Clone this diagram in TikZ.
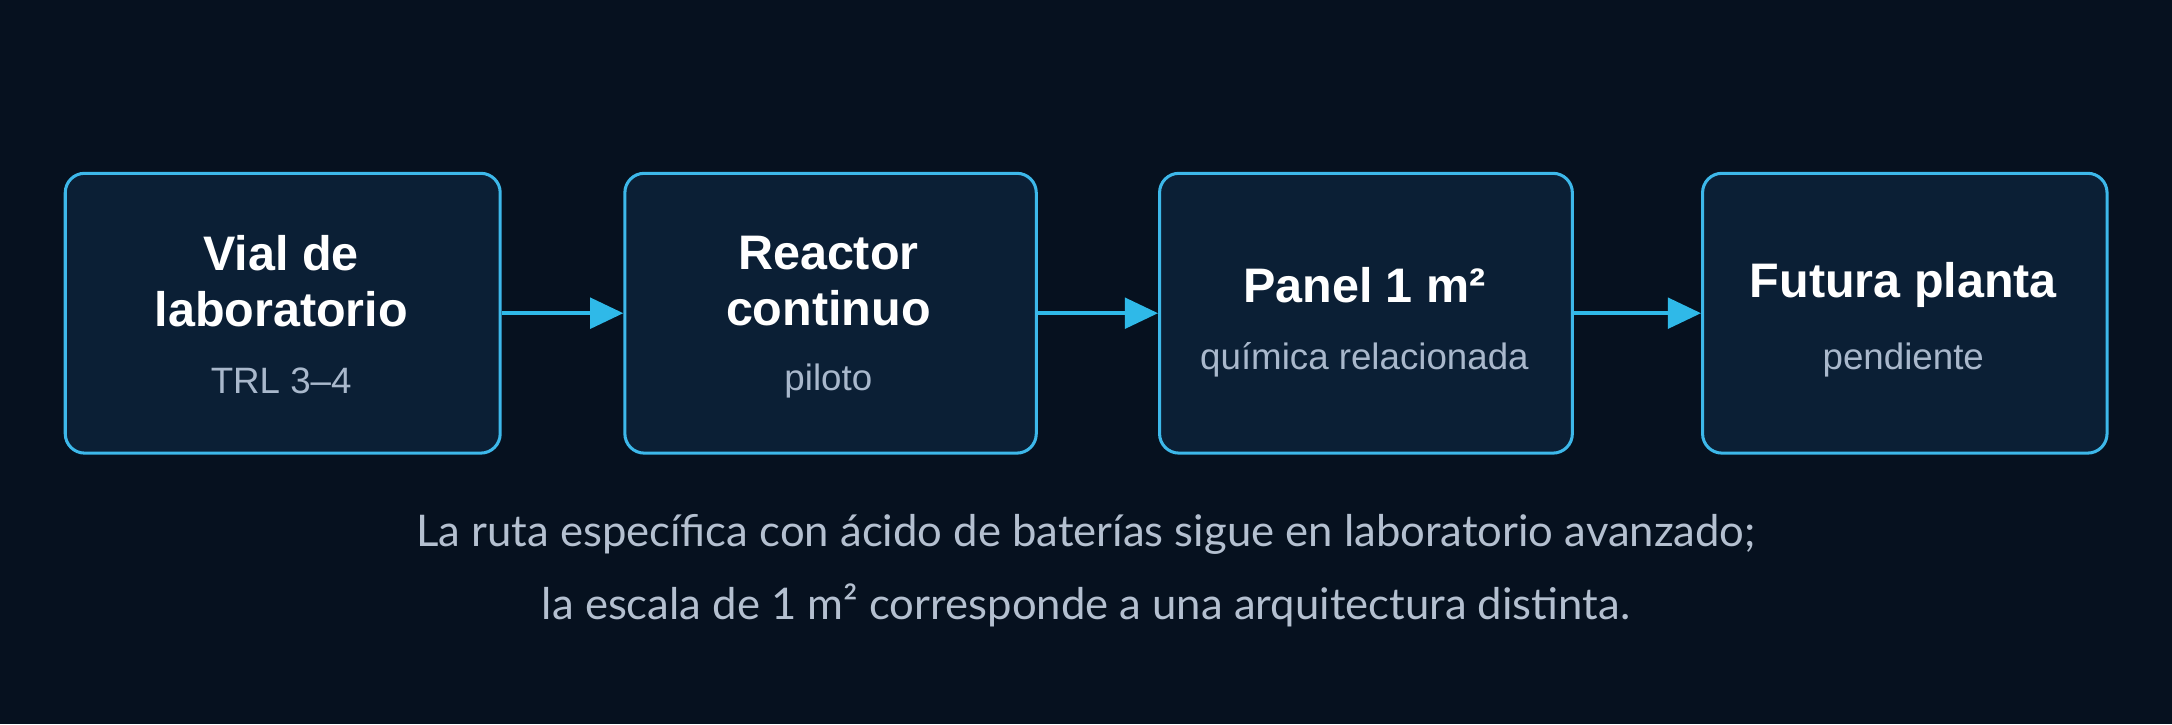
\documentclass[tikz,border=0pt]{standalone}
\usepackage{fontspec}
\setmainfont{Liberation Sans}
\newfontfamily\capfont{Lato}
\usetikzlibrary{arrows.meta}
\definecolor{bg}{HTML}{06111F}
\definecolor{boxfill}{HTML}{0B1F35}
\definecolor{edge}{HTML}{3DB8EA}
\definecolor{arr}{HTML}{2FB9E8}
\definecolor{sub}{HTML}{A9B8CC}
\definecolor{cap}{HTML}{B4C0D0}
\begin{document}
\begin{tikzpicture}[x=1pt,y=-1pt,
  box/.style={draw=edge,line width=2.2pt,fill=boxfill,rounded corners=14pt,anchor=north west,inner sep=0pt},
  ttl/.style={text=white,font=\fontsize{35}{40}\selectfont\bfseries,align=center},
  st/.style={text=sub,font=\fontsize{26.5}{30}\selectfont},
  ar/.style={draw=arr,line width=3pt,-{Triangle[length=24pt,width=22pt]}}]
\useasboundingbox (0,0) rectangle (1568,523);
\fill[bg] (0,0) rectangle (1568,523);
\node[box,minimum width=314pt,minimum height=202pt] (b1) at (46,124) {};
\node[box,minimum width=297pt,minimum height=202pt] (b2) at (450,124) {};
\node[box,minimum width=298pt,minimum height=202pt] (b3) at (836,124) {};
\node[box,minimum width=292pt,minimum height=202pt] (b4) at (1228,124) {};
\node[ttl] (t1) at (203,203) {Vial de\\laboratorio};
\node[st] (s1) at (203,275) {TRL 3–4};
\node[ttl] (t2) at (598,203) {Reactor\\continuo};
\node[st] (s2) at (598,275) {piloto};
\node[ttl] (t3) at (985,206) {Panel 1 m²};
\node[st] (s3) at (985,260) {química relacionada};
\node[ttl] (t4) at (1374,206) {Futura planta};
\node[st] (s4) at (1374,260) {pendiente};
\draw[ar] (b1.east) -- (b2.west);
\draw[ar] (b2.east) -- (b3.west);
\draw[ar] (b3.east) -- (b4.west);
\node[text=cap,font=\capfont\fontsize{31.5}{53}\selectfont,align=center] (c) at (784,412)
 {La ruta específica con ácido de baterías sigue en laboratorio avanzado;\\la escala de 1 m² corresponde a una arquitectura distinta.};
\end{tikzpicture}
\end{document}
